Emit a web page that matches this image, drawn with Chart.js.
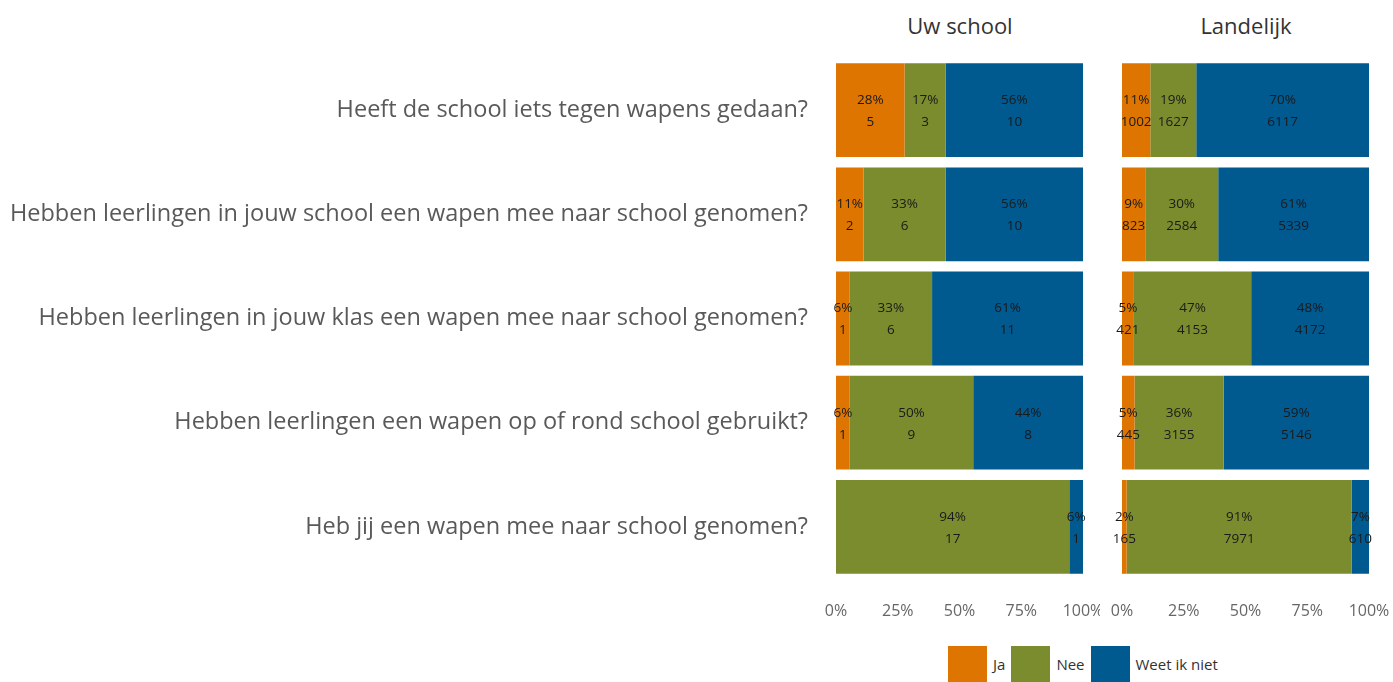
<!DOCTYPE html>
<html>
<head>
<meta charset="utf-8">
<script src="https://cdn.jsdelivr.net/npm/chart.js@4"></script>
<style>
  html, body { margin: 0; padding: 0; background: #fff; }
  body { width: 1393px; height: 682px; position: relative; overflow: hidden; font-family: "Open Sans", Lato, sans-serif; }
  .box { position: absolute; }
  .title { position: absolute; top: 10px; font-size: 22px; color: #333; text-align: center; }
  .legend { position: absolute; top: 646px; left: 948px; display: flex; align-items: center; font-size: 15px; color: #333; }
  .legend .sw { width: 39px; height: 36px; margin-right: 6px; }
  .legend span { margin-right: 6px; }
</style>
</head>
<body>

<div class="title" style="left:860px;width:200px">Uw school</div>
<div class="title" style="left:1146px;width:200px">Landelijk</div>

<div class="box" style="left:0;top:0;width:1100px;height:640px"><canvas id="schoolChart"></canvas></div>
<div class="box" style="left:1100px;top:0;width:293px;height:640px"><canvas id="landChart"></canvas></div>

<div class="legend">
  <div class="sw" style="background:#DE7500"></div><span>Ja</span>
  <div class="sw" style="background:#7A8C2D"></div><span>Nee</span>
  <div class="sw" style="background:#00598F"></div><span>Weet ik niet</span>
</div>

<script>
/* ─── data ─── */
const questions = [
  'Heeft de school iets tegen wapens gedaan?',
  'Hebben leerlingen in jouw school een wapen mee naar school genomen?',
  'Hebben leerlingen in jouw klas een wapen mee naar school genomen?',
  'Hebben leerlingen een wapen op of rond school gebruikt?',
  'Heb jij een wapen mee naar school genomen?'
];
const answers = ['Ja', 'Nee', 'Weet ik niet'];
const colors  = ['#DE7500', '#7A8C2D', '#00598F'];

// counts per answer, one entry per question
const schoolJa   = [5, 2, 1, 1, 0];
const schoolNee  = [3, 6, 6, 9, 17];
const schoolWeet = [10, 10, 11, 8, 1];

const landJa   = [1002, 823, 421, 445, 165];
const landNee  = [1627, 2584, 4153, 3155, 7971];
const landWeet = [6117, 5339, 4172, 5146, 610];

const xTicks = [0, 25, 50, 75, 100];

/* ─── helpers ─── */
function toPct(series) {
  const totals = series[0].map((_, i) => series.reduce((s, a) => s + a[i], 0));
  return series.map(a => a.map((v, i) => v / totals[i] * 100));
}

const barLabels = {
  id: 'barLabels',
  afterDatasetsDraw(chart) {
    const ctx = chart.ctx;
    ctx.save();
    ctx.fillStyle = '#1a1a1a';
    ctx.textAlign = 'center';
    ctx.textBaseline = 'middle';
    ctx.font = '13.5px "Open Sans", sans-serif';
    chart.data.datasets.forEach((ds, di) => {
      const meta = chart.getDatasetMeta(di);
      meta.data.forEach((bar, i) => {
        const n = ds.counts[i];
        if (!n) return;
        const x = (bar.x + bar.base) / 2;
        ctx.fillText(Math.round(ds.data[i]) + '%', x, bar.y - 10);
        ctx.fillText(String(n), x, bar.y + 12);
      });
    });
    ctx.restore();
  }
};

function makeChart(id, counts, showLabels, pad) {
  const pct = toPct(counts);
  return new Chart(document.getElementById(id), {
    type: 'bar',
    data: {
      labels: questions,
      datasets: answers.map((a, k) => ({
        label: a,
        data: pct[k],
        counts: counts[k],
        backgroundColor: colors[k],
        borderWidth: 0,
        barPercentage: 0.9,
        categoryPercentage: 1
      }))
    },
    options: {
      indexAxis: 'y',
      responsive: true,
      maintainAspectRatio: false,
      animation: false,
      layout: { padding: pad },
      plugins: { legend: { display: false }, tooltip: { enabled: false } },
      scales: {
        x: {
          stacked: true, min: 0, max: 100,
          grid: { display: false }, border: { display: false },
          afterBuildTicks: s => { s.ticks = xTicks.map(v => ({ value: v })); },
          afterFit: s => { s.height = 61; s.paddingLeft = 0; s.paddingRight = 0; },
          ticks: { padding: 15, color: '#666', font: { size: 16, family: 'Open Sans' }, callback: v => v + '%', maxRotation: 0 }
        },
        y: {
          stacked: true,
          display: showLabels,
          grid: { display: false }, border: { display: false },
          afterFit: s => { s.width = showLabels ? 836 : 0; },
          ticks: { padding: 20, color: '#595959', font: { size: 23.5, family: 'Open Sans' } }
        }
      }
    },
    plugins: [barLabels]
  });
}

makeChart('schoolChart', [schoolJa, schoolNee, schoolWeet], true, { top: 58, right: 17, left: 0, bottom: 0 });
makeChart('landChart', [landJa, landNee, landWeet], false, { top: 58, right: 24, left: 22, bottom: 0 });
</script>
</body>
</html>
